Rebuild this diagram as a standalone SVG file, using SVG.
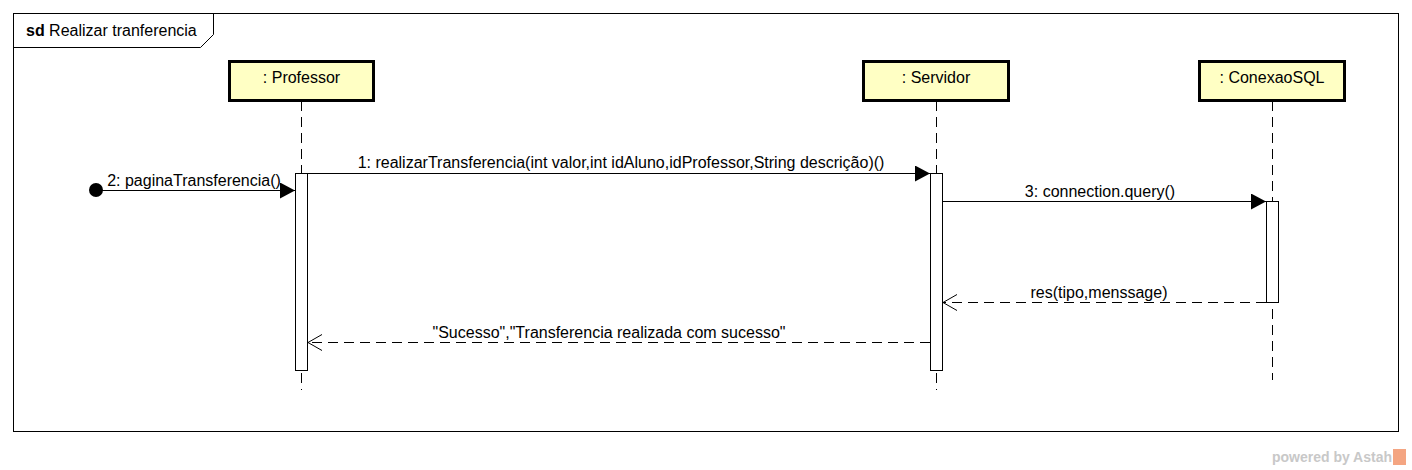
<svg xmlns="http://www.w3.org/2000/svg" width="1412" height="470" viewBox="0 0 1412 470">
<style>
text{font-family:"Liberation Sans",Arial,sans-serif;font-size:16px;fill:#000}
.head{fill:#ffffc4;stroke:#000;stroke-width:3}
.life{stroke:#000;stroke-width:1;stroke-dasharray:10,6;fill:none}
.act{fill:#fff;stroke:#000;stroke-width:1}
.msg{stroke:#000;stroke-width:1;fill:none}
.ret{stroke:#000;stroke-width:1;fill:none;stroke-dasharray:10,6}
</style>
<defs>
<marker id="filled" markerWidth="16" markerHeight="16" refX="15" refY="8" orient="auto" markerUnits="userSpaceOnUse">
<path d="M0,0 L15,8 L0,16 Z" fill="#000"/>
</marker>
<marker id="open" markerWidth="18" markerHeight="18" refX="15" refY="9" orient="auto" markerUnits="userSpaceOnUse">
<path d="M1,1 L15,9 L1,17" fill="none" stroke="#000" stroke-width="1" stroke-dasharray="none"/>
</marker>
</defs>
<rect x="0" y="0" width="1412" height="470" fill="#fff"/>
<g id="frame">
<rect x="13.5" y="13.5" width="1385" height="418" fill="none" stroke="#000"/>
<path d="M13.5,47.5 L200.5,47.5 L213.5,34.5 L213.5,13.5" fill="none" stroke="#000"/>
<text x="26" y="36"><tspan font-weight="bold">sd</tspan> Realizar tranferencia</text>
</g>
<g id="professor">
<line class="life" x1="301.5" y1="101" x2="301.5" y2="390"/>
<rect class="head" x="229.5" y="61.5" width="144" height="39"/>
<text x="301.5" y="83" text-anchor="middle">: Professor</text>
<rect class="act" x="295.5" y="173.5" width="12" height="197"/>
</g>
<g id="servidor">
<line class="life" x1="936.5" y1="101" x2="936.5" y2="390"/>
<rect class="head" x="863.5" y="61.5" width="145" height="39"/>
<text x="936" y="83" text-anchor="middle">: Servidor</text>
<rect class="act" x="930.5" y="173.5" width="12" height="197"/>
</g>
<g id="conexaosql">
<line class="life" x1="1272.5" y1="101" x2="1272.5" y2="380"/>
<rect class="head" x="1199.5" y="61.5" width="145" height="39"/>
<text x="1272" y="83" text-anchor="middle">: ConexaoSQL</text>
<rect class="act" x="1266.5" y="201.5" width="12" height="101"/>
</g>
<g id="connectors">
<line class="msg" x1="307.5" y1="173.5" x2="930" y2="173.5" marker-end="url(#filled)"/>
<text x="621" y="168" text-anchor="middle">1: realizarTransferencia(int valor,int idAluno,idProfessor,String descrição)()</text>
<circle cx="96" cy="190" r="7" fill="#000"/>
<line class="msg" x1="96" y1="190.5" x2="295" y2="190.5" marker-end="url(#filled)"/>
<text x="194" y="186" text-anchor="middle">2: paginaTransferencia()</text>
<line class="msg" x1="942.5" y1="201.5" x2="1266" y2="201.5" marker-end="url(#filled)"/>
<text x="1100" y="197" text-anchor="middle">3: connection.query()</text>
<line class="ret" x1="1266" y1="302.5" x2="943" y2="302.5" marker-end="url(#open)"/>
<text x="1099" y="298" text-anchor="middle">res(tipo,menssage)</text>
<line class="ret" x1="930" y1="342.5" x2="308" y2="342.5" marker-end="url(#open)"/>
<text x="609" y="338" text-anchor="middle">"Sucesso","Transferencia realizada com sucesso"</text>
</g>
<g id="watermark">
<text x="1392" y="462" text-anchor="end" style="font-size:14px;font-weight:bold;fill:#c8c8c8">powered by Astah</text>
<rect x="1393" y="449" width="13" height="16" fill="#f4a582"/>
</g>
</svg>
